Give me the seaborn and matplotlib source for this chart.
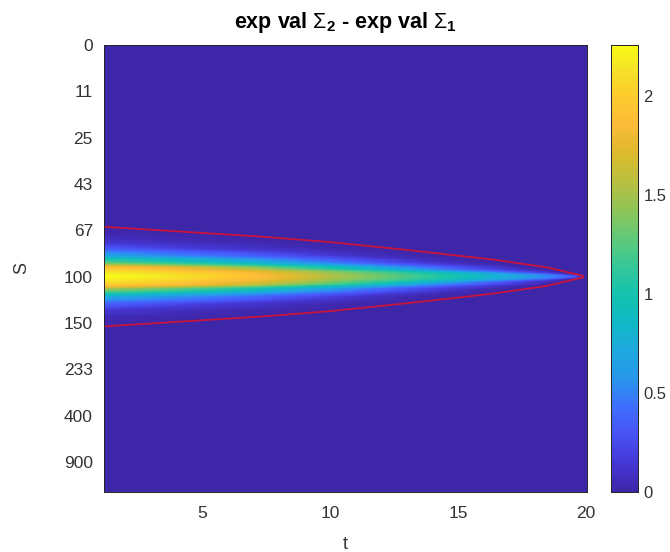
import numpy as np
import pandas as pd
import matplotlib
matplotlib.use("Agg")
import matplotlib.pyplot as plt
import seaborn as sns
from matplotlib.colors import LinearSegmentedColormap

# ---------------- data ----------------
t_range = [1.15, 20.05]          # horizontal extent of the image (t)
z_range = [0.0, 0.965]           # vertical extent, transformed S: z = S/(S+100)
center_z = 0.5                   # S = 100

# peak value of the difference along the centre line S=100
t_knots = [1.15, 3, 5, 7, 10, 12, 14, 16, 18, 19, 20]
peak_vals = [2.26, 2.2, 2.08, 1.92, 1.55, 1.33, 1.1, 0.85, 0.6, 0.45, 0.25]

# half width (in z) of the non-zero band (red contour)
w_t_knots = [1.15, 4, 7.2, 10, 13, 16.4, 18.5, 20]
half_width = [0.109, 0.099, 0.088, 0.076, 0.059, 0.038, 0.021, 0.0]

# cross-section profile: fraction of the peak vs relative distance from centre
profile_pos = [0, 0.10, 0.18, 0.26, 0.34, 0.42, 0.50, 0.65, 0.80, 1.0]
profile_frac = [1, 0.95, 0.85, 0.62, 0.44, 0.30, 0.20, 0.07, 0.02, 0.0]

ytick_z = [0.0, 0.1, 0.2, 0.3, 0.4, 0.5, 0.6, 0.7, 0.8, 0.9]
ytick_labels = ["0", "11", "25", "43", "67", "100", "150", "233", "400", "900"]
xtick_vals = [5, 10, 15, 20]
cbar_ticks = [0, 0.5, 1, 1.5, 2]
cbar_labels = ["0", "0.5", "1", "1.5", "2"]
clim = (0.0, 2.26)
contour_level = 0.003

# parula-like colormap anchors
parula_pos = [0.0, 0.063, 0.127, 0.190, 0.254, 0.317, 0.381, 0.444, 0.508,
              0.571, 0.635, 0.698, 0.762, 0.825, 0.889, 0.952, 1.0]
parula_rgb = [(0.2422, 0.1504, 0.6603), (0.2706, 0.2147, 0.8360),
              (0.2810, 0.3228, 0.9579), (0.2440, 0.4358, 0.9988),
              (0.1540, 0.5902, 0.9218), (0.1160, 0.6638, 0.8713),
              (0.0629, 0.7238, 0.7674), (0.0843, 0.7627, 0.6802),
              (0.2161, 0.7843, 0.5923), (0.3840, 0.7884, 0.4667),
              (0.5709, 0.7722, 0.3391), (0.7358, 0.7503, 0.2473),
              (0.8705, 0.7309, 0.1739), (0.9892, 0.7317, 0.2250),
              (0.9871, 0.8002, 0.1750), (0.9606, 0.8930, 0.1525),
              (0.9769, 0.9839, 0.0805)]

# ---------------- build the field ----------------
nt, nz = 189, 386
t_edges = np.linspace(t_range[0], t_range[1], nt + 1)
z_edges = np.linspace(z_range[0], z_range[1], nz + 1)
tc = 0.5 * (t_edges[:-1] + t_edges[1:])
zc = 0.5 * (z_edges[:-1] + z_edges[1:])
dt = t_edges[1] - t_edges[0]
dz = z_edges[1] - z_edges[0]

P = np.interp(tc, t_knots, peak_vals)
W = np.interp(tc, w_t_knots, half_width)
Wsafe = np.where(W > 1e-6, W, 1e-6)
D = np.abs(zc[:, None] - center_z) / Wsafe[None, :]
F = P[None, :] * np.interp(D, profile_pos, profile_frac, right=0.0)
F[:, W <= 1e-6] = 0.0
field = pd.DataFrame(F)

# ---------------- plot ----------------
sns.set_style("white")
plt.rcParams["font.family"] = ["Liberation Sans", "DejaVu Sans"]
plt.rcParams["mathtext.fontset"] = "custom"
plt.rcParams["mathtext.rm"] = "Liberation Sans"
plt.rcParams["mathtext.bf"] = "Liberation Sans:bold"

parula = LinearSegmentedColormap.from_list("parula", list(zip(parula_pos, parula_rgb)), N=256)

fig = plt.figure(figsize=(6.7, 5.52), dpi=100)
ax = fig.add_axes([104 / 670, 60 / 552, 483 / 670, 447 / 552])
cax = fig.add_axes([611 / 670, 60 / 552, 27 / 670, 447 / 552])

sns.heatmap(field, ax=ax, cmap=parula, vmin=clim[0], vmax=clim[1],
            cbar_ax=cax, xticklabels=False, yticklabels=False)

# red contour of the support
Xc = (tc - t_range[0]) / dt
Yc = (zc - z_range[0]) / dz
ax.contour(Xc, Yc, F, levels=[contour_level], colors=["#c8143c"], linewidths=1.3)

tick_col = "#333333"
ax.set_xticks([(t - t_range[0]) / dt for t in xtick_vals])
ax.set_xticklabels([str(t) for t in xtick_vals])
ax.set_yticks([(z - z_range[0]) / dz for z in ytick_z])
ax.set_yticklabels(ytick_labels, rotation=0)
ax.tick_params(direction="in", length=5, width=0.6, colors=tick_col,
               labelsize=12.5, top=True, right=True, bottom=True, left=True,
               labelcolor=tick_col)
ax.tick_params(axis="y", pad=8)
ax.tick_params(axis="x", pad=10)
for s in ax.spines.values():
    s.set_visible(True)
    s.set_color("#262626")
    s.set_linewidth(0.7)

ax.set_xlabel("t", fontsize=13, color=tick_col, labelpad=11)
ax.set_ylabel("S", fontsize=13, color=tick_col, labelpad=24)
ax.set_title(r"exp val $\Sigma_\mathbf{2}$ - exp val $\Sigma_\mathbf{1}$",
             fontsize=15.5, fontweight="bold", color="black", pad=12)

cax.set_yticks(cbar_ticks)
cax.set_yticklabels(cbar_labels)
cax.tick_params(direction="in", length=4, width=0.6, colors=tick_col,
                labelsize=12, right=True, left=False, pad=4)
for s in cax.spines.values():
    s.set_visible(True)
    s.set_color("#262626")
    s.set_linewidth(0.7)

fig.savefig("out.png", dpi=100)
